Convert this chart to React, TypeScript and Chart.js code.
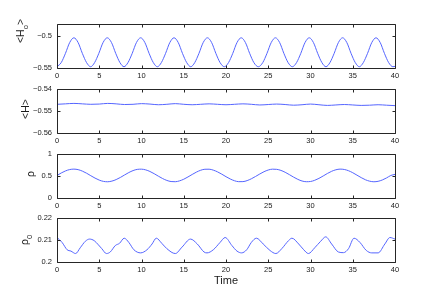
import React, { useEffect, useRef } from "react";
import { Chart, registerables } from "chart.js";

Chart.register(...registerables);

// ---------- data ----------
const xTicks = [0, 5, 10, 15, 20, 25, 30, 35, 40];
const xTickLabels = ["0", "5", "10", "15", "20", "25", "30", "35", "40"];

// <H_o>
const tH0 = [
  0, 0.5, 1.0, 1.5, 2.0, 2.5, 3.0, 3.5, 3.98, 4.45, 4.95, 5.45, 5.95, 6.45, 6.95, 7.45,
  7.93, 8.4, 8.9, 9.4, 9.9, 10.4, 10.9, 11.4, 11.88, 12.35, 12.85, 13.35, 13.85, 14.35, 14.85, 15.35,
  15.83, 16.3, 16.8, 17.3, 17.8, 18.3, 18.8, 19.3, 19.8, 20.3, 20.8, 21.3, 21.8, 22.3, 22.8, 23.3,
  23.83, 24.35, 24.85, 25.35, 25.85, 26.35, 26.85, 27.35, 27.85, 28.35, 28.85, 29.35, 29.85, 30.35, 30.85, 31.35,
  31.83, 32.3, 32.8, 33.3, 33.8, 34.3, 34.8, 35.3, 35.78, 36.25, 36.75, 37.25, 37.75, 38.25, 38.75, 39.25,
  39.75, 40,
];
const h0 = [
  -0.548, -0.5415, -0.527, -0.51, -0.5025, -0.51, -0.527, -0.5415, -0.548, -0.5415, -0.527, -0.51, -0.5025, -0.51, -0.527, -0.5415,
  -0.548, -0.5415, -0.527, -0.51, -0.5025, -0.51, -0.527, -0.5415, -0.548, -0.5415, -0.527, -0.51, -0.5025, -0.51, -0.527, -0.5415,
  -0.548, -0.5415, -0.527, -0.51, -0.5025, -0.51, -0.527, -0.5415, -0.548, -0.5415, -0.527, -0.51, -0.5025, -0.51, -0.527, -0.5415,
  -0.548, -0.5415, -0.527, -0.51, -0.5025, -0.51, -0.527, -0.5415, -0.548, -0.5415, -0.527, -0.51, -0.5025, -0.51, -0.527, -0.5415,
  -0.548, -0.5415, -0.527, -0.51, -0.5025, -0.51, -0.527, -0.5415, -0.548, -0.5415, -0.527, -0.51, -0.5025, -0.51, -0.527, -0.5415,
  -0.548, -0.5475,
];

// <H>
const hAvg = [
  -0.5471, -0.5469, -0.5467, -0.5469, -0.5471, -0.547, -0.5467, -0.5469, -0.5472, -0.5471, -0.5468,
  -0.547, -0.5473, -0.5471, -0.5468, -0.5471, -0.5473, -0.5471, -0.5469, -0.5471, -0.5473,
  -0.5471, -0.5469, -0.5471, -0.5474, -0.5472, -0.547, -0.5472, -0.5475, -0.5473, -0.547,
  -0.5473, -0.5476, -0.5474, -0.5472, -0.5474, -0.5476, -0.5475, -0.5473, -0.5475, -0.5477,
];
const tH = hAvg.map((_, i) => i);

// rho
const rho = [
  0.507, 0.562, 0.608, 0.639, 0.649, 0.637, 0.604, 0.557, 0.501, 0.447, 0.402, 0.373, 0.365, 0.38, 0.414, 0.462,
  0.518, 0.572, 0.616, 0.643, 0.648, 0.632, 0.596, 0.546, 0.49, 0.437, 0.395, 0.37, 0.366, 0.385, 0.422, 0.473,
  0.529, 0.582, 0.623, 0.646, 0.647, 0.626, 0.587, 0.536, 0.479, 0.428, 0.388, 0.367, 0.368, 0.391, 0.432, 0.484,
  0.54, 0.591, 0.629, 0.648, 0.644, 0.62, 0.578, 0.525, 0.469, 0.419, 0.382, 0.366, 0.371, 0.398, 0.441, 0.495,
  0.551, 0.6, 0.634, 0.649, 0.641, 0.613, 0.568, 0.513, 0.458, 0.41, 0.378, 0.365, 0.375, 0.405, 0.451, 0.506,
  0.53,
];
const tRho = rho.map((_, i) => i * 0.5);

// rho_0
const tRho0 = [
  0, 0.6, 1.2, 1.65, 2.2, 2.75, 3.35, 3.85, 4.4, 4.9, 5.3, 5.85, 6.3, 6.9, 7.4, 7.95,
  8.5, 9.1, 9.9, 10.65, 11.25, 11.75, 12.4, 13.0, 14.0, 14.8, 15.8, 16.6, 17.4, 17.75, 18.5, 19.3,
  19.9, 20.7, 21.3, 21.85, 22.45, 23.0, 23.6, 24.4, 25.2, 25.9, 26.6, 27.4, 27.8, 28.6, 29.2, 29.75,
  30.5, 31.2, 31.8, 32.5, 33.3, 33.9, 34.5, 35.15, 35.85, 36.6, 37.25, 38.0, 38.8, 39.4, 40.0,
];
const rho0 = [
  0.211, 0.2088, 0.2055, 0.2049, 0.2038, 0.2064, 0.2093, 0.2103, 0.2096, 0.2077, 0.206, 0.2038, 0.2045, 0.2074, 0.2084, 0.2107,
  0.2088, 0.2055, 0.2041, 0.2055, 0.2081, 0.2107, 0.2084, 0.206, 0.2038, 0.2067, 0.2103, 0.2081, 0.2045, 0.2041, 0.2055, 0.2088,
  0.211, 0.2074, 0.2049, 0.2041, 0.2055, 0.2088, 0.2107, 0.2081, 0.2052, 0.2038, 0.206, 0.2096, 0.2107, 0.2081, 0.2055, 0.2038,
  0.2064, 0.2093, 0.2113, 0.2081, 0.2045, 0.2042, 0.206, 0.2107, 0.2088, 0.2052, 0.2041, 0.2041, 0.2081, 0.211, 0.2103,
];

const yTicksH0 = [-0.55, -0.5];
const yTickLabelsH0 = ["\u22120.55", "\u22120.5"];
const yTicksH = [-0.56, -0.55, -0.54];
const yTickLabelsH = ["\u22120.56", "\u22120.55", "\u22120.54"];
const yTicksRho = [0, 0.5, 1];
const yTickLabelsRho = ["0", "0.5", "1"];
const yTicksRho0 = [0.2, 0.21, 0.22];
const yTickLabelsRho0 = ["0.2", "0.21", "0.22"];

const xTitle = "Time";

// ---------- styling ----------
const FONT = '"Liberation Sans", Arial, Helvetica, sans-serif';
const LINE_COLOR = "#5565ff";
const AXIS_COLOR = "#262626";
const TEXT_COLOR = "#1a1a1a";

type Part = { t: string; sub?: boolean };

type PanelDef = {
  t: number[];
  v: number[];
  yMin: number;
  yMax: number;
  yTicks: number[];
  yTickLabels: string[];
  label: Part[];
  labelBaseX: number;
  labelCenterY: number;
  boxTop: number;
  showXTitle?: boolean;
};

const BOX_H = 46;
const PAD_TOP = 8;

const panels: PanelDef[] = [
  {
    t: tH0, v: h0, yMin: -0.55, yMax: -0.48, yTicks: yTicksH0, yTickLabels: yTickLabelsH0,
    label: [{ t: "<H" }, { t: "o", sub: true }, { t: ">" }], labelBaseX: 24, labelCenterY: 31, boxTop: 22,
  },
  {
    t: tH, v: hAvg, yMin: -0.56, yMax: -0.54, yTicks: yTicksH, yTickLabels: yTickLabelsH,
    label: [{ t: "<H>" }], labelBaseX: 29, labelCenterY: 109, boxTop: 87,
  },
  {
    t: tRho, v: rho, yMin: 0, yMax: 1, yTicks: yTicksRho, yTickLabels: yTickLabelsRho,
    label: [{ t: "ρ" }], labelBaseX: 34, labelCenterY: 174, boxTop: 152,
  },
  {
    t: tRho0, v: rho0, yMin: 0.2, yMax: 0.22, yTicks: yTicksRho0, yTickLabels: yTickLabelsRho0,
    label: [{ t: "ρ" }, { t: "0", sub: true }], labelBaseX: 27.5, labelCenterY: 240, boxTop: 216,
    showXTitle: true,
  },
];

const framePlugin = {
  id: "matlabFrame",
  afterDraw(chart: any, _args: any, opts: any) {
    const { ctx, chartArea: a, scales } = chart;
    const canvasTop: number = opts.canvasTop;
    ctx.save();
    ctx.strokeStyle = AXIS_COLOR;
    ctx.lineWidth = 1;
    const L = Math.round(a.left) + 0.5;
    const R = Math.round(a.right) + 0.5;
    const T = Math.round(a.top) + 0.5;
    const B = Math.round(a.bottom) + 0.5;
    ctx.beginPath();
    ctx.rect(L, T, R - L, B - T);
    ctx.stroke();
    const tl = 3;
    ctx.beginPath();
    for (const tk of scales.x.ticks) {
      const px = Math.round(scales.x.getPixelForValue(tk.value)) + 0.5;
      ctx.moveTo(px, T);
      ctx.lineTo(px, T + tl);
      ctx.moveTo(px, B);
      ctx.lineTo(px, B - tl);
    }
    for (const tk of scales.y.ticks) {
      const py = Math.round(scales.y.getPixelForValue(tk.value)) + 0.5;
      ctx.moveTo(L, py);
      ctx.lineTo(L + tl, py);
      ctx.moveTo(R, py);
      ctx.lineTo(R - tl, py);
    }
    ctx.stroke();

    const parts: Part[] = opts.label;
    const size = 10.5;
    const subSize = 7.5;
    const mainFont = `${size}px ${FONT}`;
    const subFont = `${subSize}px ${FONT}`;
    let total = 0;
    for (const p of parts) {
      ctx.font = p.sub ? subFont : mainFont;
      total += ctx.measureText(p.t).width;
    }
    ctx.save();
    ctx.translate(opts.labelBaseX, opts.labelCenterY - canvasTop);
    ctx.rotate(-Math.PI / 2);
    ctx.fillStyle = TEXT_COLOR;
    ctx.textBaseline = "alphabetic";
    ctx.textAlign = "left";
    let x = -total / 2;
    for (const p of parts) {
      ctx.font = p.sub ? subFont : mainFont;
      ctx.fillText(p.t, x, p.sub ? 4 : 0);
      x += ctx.measureText(p.t).width;
    }
    ctx.restore();

    if (opts.showXTitle) {
      ctx.font = `11px ${FONT}`;
      ctx.fillStyle = TEXT_COLOR;
      ctx.textAlign = "center";
      ctx.textBaseline = "alphabetic";
      ctx.fillText(xTitle, (a.left + a.right) / 2, a.bottom + 22);
    }
    ctx.restore();
  },
};

function Panel({ def }: { def: PanelDef }) {
  const ref = useRef<HTMLCanvasElement | null>(null);
  const xAxisH = def.showXTitle ? 33 : 16;
  const height = PAD_TOP + BOX_H + xAxisH;
  const canvasTop = def.boxTop - PAD_TOP;

  useEffect(() => {
    if (!ref.current) return;
    const chart = new Chart(ref.current, {
      type: "line",
      data: {
        datasets: [
          {
            data: def.t.map((x, i) => ({ x, y: def.v[i] })),
            borderColor: LINE_COLOR,
            borderWidth: 1,
            pointRadius: 0,
            cubicInterpolationMode: "monotone",
            fill: false,
          },
        ],
      },
      options: {
        animation: false,
        responsive: false,
        events: [],
        layout: { padding: { top: PAD_TOP, right: 436 - 395, left: 0, bottom: 0 } },
        plugins: {
          legend: { display: false },
          tooltip: { enabled: false },
          matlabFrame: {
            canvasTop,
            label: def.label,
            labelBaseX: def.labelBaseX,
            labelCenterY: def.labelCenterY,
            showXTitle: !!def.showXTitle,
          },
        } as any,
        scales: {
          x: {
            type: "linear",
            min: 0,
            max: 40,
            grid: { display: false, drawTicks: false },
            border: { display: false },
            afterBuildTicks: (s: any) => {
              s.ticks = xTicks.map((v) => ({ value: v }));
            },
            afterFit: (s: any) => {
              s.height = xAxisH;
            },
            ticks: {
              padding: 3,
              maxRotation: 0,
              autoSkip: false,
              color: TEXT_COLOR,
              font: { family: FONT, size: 7.5 },
              callback: (_v: any, i: number) => xTickLabels[i],
            },
          },
          y: {
            type: "linear",
            min: def.yMin,
            max: def.yMax,
            grid: { display: false, drawTicks: false },
            border: { display: false },
            afterBuildTicks: (s: any) => {
              s.ticks = def.yTicks.map((v) => ({ value: v }));
            },
            afterFit: (s: any) => {
              s.width = 57;
            },
            ticks: {
              padding: 5,
              autoSkip: false,
              color: TEXT_COLOR,
              font: { family: FONT, size: 7.5 },
              callback: (_v: any, i: number) => def.yTickLabels[i],
            },
          },
        },
      },
      plugins: [framePlugin],
    } as any);
    return () => chart.destroy();
  }, []);

  return (
    <canvas
      ref={ref}
      width={436}
      height={height}
      style={{ position: "absolute", left: 0, top: canvasTop, width: 436, height }}
    />
  );
}

export default function App() {
  return (
    <div
      style={{
        position: "absolute",
        left: 0,
        top: 0,
        width: 436,
        height: 295,
        background: "#ffffff",
        overflow: "hidden",
      }}
    >
      {panels.map((p, i) => (
        <Panel key={i} def={p} />
      ))}
    </div>
  );
}
